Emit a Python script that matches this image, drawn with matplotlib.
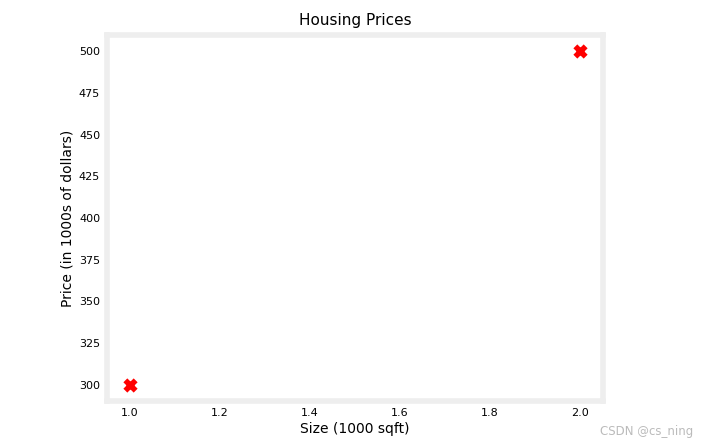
import numpy as np
import matplotlib
matplotlib.use("Agg")
import matplotlib.pyplot as plt

# datos de entrenamiento: tamaño (1000 sqft) y precio (1000s de dólares)
x_train = np.array([1.0, 2.0])
y_train = np.array([300.0, 500.0])

EDGE = "#eeeeee"

fig = plt.figure(figsize=(7.09, 4.43), dpi=100)
ax = fig.add_axes([0.151, 0.094, 0.699, 0.828])

ax.scatter(x_train, y_train, marker="x", c="r", s=55, linewidths=4)

ax.set_title("Housing Prices", fontsize=11, pad=7)
ax.set_ylabel("Price (in 1000s of dollars)", fontsize=10, labelpad=3)
ax.set_xlabel("Size (1000 sqft)", fontsize=10, labelpad=3)

ax.set_xticks([1.0, 1.2, 1.4, 1.6, 1.8, 2.0])
ax.set_yticks(np.arange(300, 501, 25))
ax.tick_params(labelsize=8, length=0, pad=5)
for s in ax.spines.values():
    s.set_color(EDGE)
    s.set_linewidth(4)

fig.text(0.978, 0.012, "CSDN @cs_ning", ha="right", va="bottom",
         fontsize=8.5, color="#bbbbbb")

fig.savefig("out.png", dpi=100)
